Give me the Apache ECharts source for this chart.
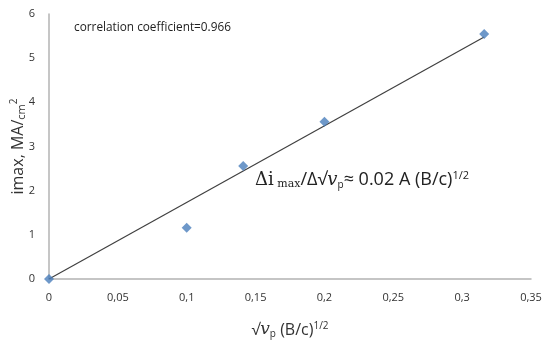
<!DOCTYPE html>
<html>
<head>
<meta charset="utf-8">
<script src="https://cdn.jsdelivr.net/npm/echarts@6/dist/echarts.min.js"></script>
<style>html,body{margin:0;padding:0;background:#fff}#c{width:550px;height:345px}</style>
</head>
<body>
<div id="c"></div>
<script>
var sqrtV = [0, 0.1, 0.141, 0.2, 0.316];
var iMax = [0, 1.16, 2.56, 3.56, 5.55];
var xTicks = [0, 0.05, 0.1, 0.15, 0.2, 0.25, 0.3, 0.35];
var yTicks = [0, 1, 2, 3, 4, 5, 6];
var corrText = 'correlation coefficient=0.966';

var pts = sqrtV.map(function (x, i) { return [x, iMax[i]]; });
// linear trend through the origin (least squares)
var sxy = 0, sxx = 0;
sqrtV.forEach(function (x, i) { sxy += x * iMax[i]; sxx += x * x; });
var slope = sxy / sxx;
var xEnd = Math.max.apply(null, sqrtV);
var trend = [[0, 0], [xEnd, slope * xEnd]];

var sans = 'Open Sans, Liberation Sans, sans-serif';
var serif = 'DejaVu Serif, Liberation Serif, serif';
var chart = echarts.init(document.getElementById('c'));
chart.setOption({
  animation: false,
  grid: { left: 49, right: 19, top: 14, bottom: 66, containLabel: false, outerBoundsMode: 'none' },
  xAxis: {
    type: 'value', min: xTicks[0], max: xTicks[xTicks.length - 1], interval: 0.05,
    axisLine: { lineStyle: { color: '#b3b3b3', width: 1.5 } },
    axisTick: { show: false }, splitLine: { show: false },
    axisLabel: { margin: 13, color: '#333', fontSize: 11, fontFamily: sans,
      formatter: function (v) { return String(+v.toFixed(2)).replace('.', ','); } },
    name: '{r|√}{v|v}{s|p}{t| (B/c)}{u|1/2}',
    nameLocation: 'middle', nameGap: 42, nameMoveOverlap: false,
    nameTextStyle: { rich: {
      r: { fontSize: 16, fontFamily: sans, color: '#333', lineHeight: 18 },
      v: { fontSize: 17, fontFamily: serif, fontStyle: 'italic', color: '#333', lineHeight: 18 },
      s: { fontSize: 10, fontFamily: sans, color: '#333', lineHeight: 10, verticalAlign: 'bottom' },
      t: { fontSize: 16, fontFamily: sans, color: '#333', lineHeight: 18 },
      u: { fontSize: 10, fontFamily: sans, color: '#333', lineHeight: 10, verticalAlign: 'top' }
    } }
  },
  yAxis: {
    type: 'value', min: yTicks[0], max: yTicks[yTicks.length - 1], interval: 1,
    axisLine: { show: true, lineStyle: { color: '#b3b3b3', width: 1.5 } },
    axisTick: { show: false }, splitLine: { show: false },
    axisLabel: { margin: 14, color: '#333', fontSize: 11, fontFamily: sans },
    name: '{a|imax, MA/}{b|cm}{c|2}',
    nameLocation: 'middle', nameGap: 22, nameRotate: 90, nameMoveOverlap: false,
    nameTextStyle: { rich: {
      a: { fontSize: 16, fontFamily: sans, color: '#333', lineHeight: 18 },
      b: { fontSize: 11, fontFamily: sans, color: '#333', lineHeight: 10, verticalAlign: 'bottom' },
      c: { fontSize: 10, fontFamily: sans, color: '#333', lineHeight: 10, verticalAlign: 'top' }
    } }
  },
  series: [
    { type: 'line', data: trend, symbol: 'none', silent: true,
      lineStyle: { color: '#404040', width: 1.2 }, z: 1 },
    { type: 'scatter', data: pts, symbol: 'diamond', symbolSize: 10,
      itemStyle: { color: '#4a7ebb' }, z: 2 }
  ],
  graphic: [
    { type: 'text', left: 74, top: 22,
      style: { text: corrText, fontSize: 11.8, fontFamily: sans, fill: '#222' } },
    { type: 'text', left: 255, top: 170,
      style: {
        text: '{d|Δi}{m| max}{n|/Δ√}{v|v}{s|p}{n|≈ 0.02 A (B/c)}{u|1/2}',
        rich: {
          d: { fontSize: 18, fontFamily: serif, fill: '#222', lineHeight: 20 },
          m: { fontSize: 11, fontFamily: serif, fill: '#222', lineHeight: 10, verticalAlign: 'bottom' },
          n: { fontSize: 18, fontFamily: sans, fill: '#222', lineHeight: 20 },
          v: { fontSize: 18, fontFamily: serif, fontStyle: 'italic', fill: '#222', lineHeight: 20 },
          s: { fontSize: 10, fontFamily: sans, fill: '#222', lineHeight: 10, verticalAlign: 'bottom' },
          u: { fontSize: 11, fontFamily: sans, fill: '#222', lineHeight: 10, verticalAlign: 'top' }
        }
      } }
  ]
});
</script>
</body>
</html>
